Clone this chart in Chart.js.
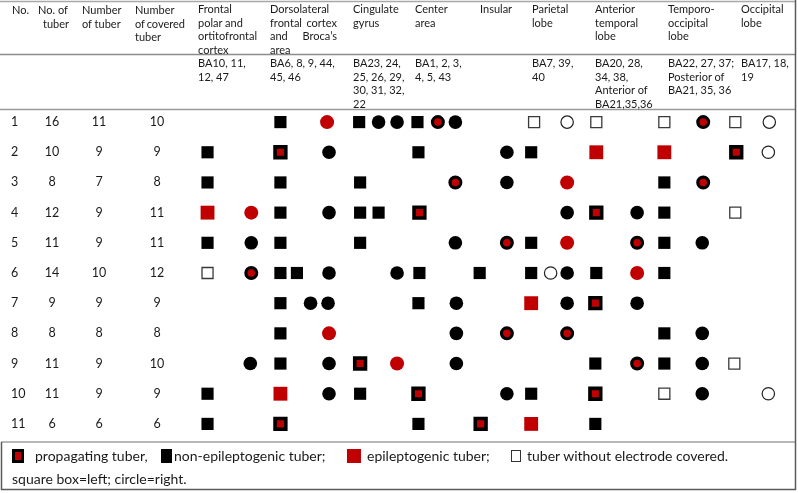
<!DOCTYPE html>
<html>
<head>
<meta charset="utf-8">
<script src="https://cdn.jsdelivr.net/npm/chart.js@4.4.1/dist/chart.umd.min.js"></script>
<style>
  html, body { margin: 0; padding: 0; background: #fff; }
  #wrap { position: relative; width: 798px; height: 493px; overflow: hidden;
          font-family: Lato, "Open Sans", sans-serif; color: #1a1a1a; }
  #tuberChart { position: absolute; left: 0; top: 0; }
  .txt { position: absolute; white-space: nowrap; font-size: 11px; line-height: 13.5px; }
  .just { display: flex; justify-content: space-between; }
  .num { position: absolute; white-space: nowrap; font-size: 12.5px; line-height: 16px; }
  .leg { position: absolute; white-space: nowrap; font-size: 14px; line-height: 18px; }
  .icon { position: absolute; box-sizing: border-box; }
</style>
</head>
<body>
<div id="wrap">
  <canvas id="tuberChart" width="798" height="493"></canvas>
</div>
<script>
// Table header text
const leftHeaders = [["No."], ["No. of", "tuber"], ["Number", "of tuber"], ["Number", "of|covered", "tuber"]];
const regionTitles = [
    ["Frontal", "polar and", "ortitofrontal", "cortex"],
    ["Dorsolateral", "frontal|cortex", "and|Broca’s", "area"],
    ["Cingulate", "gyrus"],
    ["Center", "area"],
    ["Insular"],
    ["Parietal", "lobe"],
    ["Anterior", "temporal", "lobe"],
    ["Temporo-", "occipital", "lobe"],
    ["Occipital", "lobe"]
];
const brodmannAreas = [
    ["BA10, 11,", "12, 47"],
    ["BA6, 8, 9, 44,", "45, 46"],
    ["BA23, 24,", "25, 26, 29,", "30, 31, 32,", "22"],
    ["BA1, 2, 3,", "4, 5, 43"],
    [],
    ["BA7, 39,", "40"],
    ["BA20, 28,", "34, 38,", "Anterior of", "BA21,35,36"],
    ["BA22, 27, 37;", "Posterior of", "BA21, 35, 36"],
    ["BA17, 18,", "19"]
];

// Per patient counts
const patientNo = [1, 2, 3, 4, 5, 6, 7, 8, 9, 10, 11];
const tuberTotal = [16, 10, 8, 12, 11, 14, 9, 8, 11, 11, 6];
const tuberNumber = [11, 9, 7, 9, 9, 10, 9, 8, 9, 9, 6];
const tuberCovered = [10, 9, 8, 11, 11, 12, 9, 8, 10, 9, 6];

// Tubers: [patient row, position across the table]
const nonEpiSquares = [[1, 277], [1, 358], [1, 418], [2, 202], [2, 419], [2, 535], [3, 202], [3, 277], [3, 359], [3, 672],
    [4, 277], [4, 359], [4, 378], [4, 672], [5, 202], [5, 277], [5, 359], [5, 535], [5, 672],
    [6, 277], [6, 294], [6, 420], [6, 482], [6, 535], [6, 602], [6, 672], [7, 277], [7, 419], [8, 277], [8, 672],
    [9, 277], [9, 601], [9, 672], [10, 202], [10, 359], [10, 535], [11, 202], [11, 419], [11, 601]];
const nonEpiCircles = [[1, 378], [1, 397], [1, 457], [2, 327], [2, 510], [3, 510], [4, 327], [4, 572], [4, 644],
    [5, 247], [5, 457], [5, 711], [6, 327], [6, 397], [6, 572], [7, 308], [7, 326], [7, 458], [7, 572], [7, 644],
    [8, 458], [8, 711], [9, 246], [9, 327], [9, 458], [9, 711], [10, 327], [10, 510], [10, 711]];
const propSquares = [[2, 277], [2, 746], [4, 420], [4, 602], [7, 601], [9, 359], [10, 419], [10, 601], [11, 277], [11, 483]];
const propCircles = [[1, 439], [1, 712], [3, 457], [3, 712], [5, 510], [5, 644], [6, 247], [8, 510], [8, 572], [9, 644]];
const epiSquares = [[2, 602], [2, 672], [4, 202], [7, 535], [10, 277], [11, 535]];
const epiCircles = [[1, 325], [3, 572], [4, 247], [5, 572], [6, 644], [8, 327], [9, 397]];
const bareSquares = [[1, 538], [1, 602], [1, 672], [1, 745], [4, 745], [6, 202], [9, 744], [10, 672]];
const bareCircles = [[1, 572], [1, 780], [2, 779], [6, 555], [10, 779]];

const RED = "#c00000";
const wrap = document.getElementById("wrap");

const toPoints = (list) => list.map(([row, pos]) => ({ x: pos, y: row }));

const addText = (cls, text, left, top, width) => {
    const el = document.createElement("div");
    el.className = cls;
    el.style.left = left + "px";
    el.style.top = top + "px";
    if (text.includes("|")) {
        el.classList.add("just");
        el.style.width = width + "px";
        text.split("|").forEach((part) => {
            const s = document.createElement("span");
            s.textContent = part;
            el.appendChild(s);
        });
    } else {
        el.textContent = text;
    }
    wrap.appendChild(el);
    return el;
};

// table rules, drawn under the markers
const tableRules = {
    id: "tableRules",
    beforeDatasetsDraw(chart) {
        const ctx = chart.ctx;
        ctx.save();
        const line = (x1, y1, x2, y2, color, w) => {
            ctx.strokeStyle = color;
            ctx.lineWidth = w;
            ctx.beginPath();
            ctx.moveTo(x1, y1);
            ctx.lineTo(x2, y2);
            ctx.stroke();
        };
        line(0, 1.5, 796, 1.5, "#a8a8a8", 1.5);
        line(0, 54.5, 796, 54.5, "#8c8c8c", 1.5);
        line(0, 109.5, 796, 109.5, "#9a9a9a", 1.5);
        line(1, 442, 796, 442, "#a0a0a0", 1.5);
        line(1, 489.5, 796, 489.5, "#5a5a5a", 1.5);
        line(1.5, 442, 1.5, 490, "#5a5a5a", 1.5);
        line(795.5, 0, 795.5, 490, "#5a5a5a", 1.5);
        ctx.restore();
    }
};

const base = { showLine: false, clip: false, pointHoverRadius: 0 };

const chart = new Chart(document.getElementById("tuberChart"), {
    type: "scatter",
    data: {
        datasets: [
            { ...base, label: "non-epileptogenic tuber (left)", data: toPoints(nonEpiSquares), pointStyle: "rect",
              pointRadius: 8.6, backgroundColor: "#000", borderWidth: 0 },
            { ...base, label: "non-epileptogenic tuber (right)", data: toPoints(nonEpiCircles), pointStyle: "circle",
              pointRadius: 6.8, backgroundColor: "#000", borderWidth: 0 },
            { ...base, label: "epileptogenic tuber (left)", data: toPoints(epiSquares), pointStyle: "rect",
              pointRadius: 9.8, backgroundColor: RED, borderWidth: 0 },
            { ...base, label: "epileptogenic tuber (right)", data: toPoints(epiCircles), pointStyle: "circle",
              pointRadius: 7, backgroundColor: RED, borderWidth: 0 },
            { ...base, label: "propagating tuber (left)", data: toPoints(propSquares), pointStyle: "rect",
              pointRadius: 7.6, backgroundColor: RED, borderColor: "#000", borderWidth: 3.6 },
            { ...base, label: "propagating tuber (right)", data: toPoints(propCircles), pointStyle: "circle",
              pointRadius: 5.4, backgroundColor: RED, borderColor: "#000", borderWidth: 3.2 },
            { ...base, label: "tuber without electrode (left)", data: toPoints(bareSquares), pointStyle: "rect",
              pointRadius: 7.8, backgroundColor: "#fff", borderColor: "#3a3a3a", borderWidth: 1.3 },
            { ...base, label: "tuber without electrode (right)", data: toPoints(bareCircles), pointStyle: "circle",
              pointRadius: 6.2, backgroundColor: "#fff", borderColor: "#222", borderWidth: 1.2 }
        ]
    },
    options: {
        responsive: false,
        animation: false,
        events: [],
        layout: { padding: { top: 107, bottom: 54, left: 0, right: 0 } },
        scales: {
            x: { type: "linear", min: 0, max: 798, display: false },
            y: { type: "linear", min: 0.5, max: 11.5, reverse: true, display: false }
        },
        plugins: { legend: { display: false }, tooltip: { enabled: false } }
    },
    plugins: [tableRules]
});

// header text
const leftHeaderX = [[12], [38, 43], [82, 82], [135, 135, 135]];
leftHeaders.forEach((lines, i) => {
    lines.forEach((t, j) => addText("txt", t, leftHeaderX[i][j], 3 + j * 13.5, 50));
});
const regionLeft = [198, 270, 353, 415, 480, 532, 595, 668, 741];
regionTitles.forEach((lines, i) => {
    lines.forEach((t, j) => addText("txt", t, regionLeft[i], 2 + j * 13.5, 67));
});
brodmannAreas.forEach((lines, i) => {
    lines.forEach((t, j) => addText("txt", t, regionLeft[i], 56 + j * 13.5, 67));
});

// per-patient numbers, placed on the chart's row scale
const yScale = chart.scales.y;
patientNo.forEach((n, i) => {
    const y = yScale.getPixelForValue(n) - 8;
    addText("num", String(n), 11, y);
    const cols = [[tuberTotal[i], 52], [tuberNumber[i], 99], [tuberCovered[i], 157]];
    cols.forEach(([v, cx]) => {
        const el = addText("num", String(v), cx, y);
        el.style.transform = "translateX(-50%)";
    });
});

// legend
const icon = (left, top, w, h, bg, border) => {
    const el = document.createElement("div");
    el.className = "icon";
    Object.assign(el.style, { left: left + "px", top: top + "px", width: w + "px", height: h + "px",
        background: bg, border: border || "none" });
    wrap.appendChild(el);
    return el;
};
icon(12, 449, 12, 14, RED, "3.5px solid #000");
icon(161, 449, 11, 14, "#000");
icon(347, 449, 14, 14, RED);
icon(511, 450, 10, 12, "#fff", "1px solid #333");
addText("leg", "propagating tuber,", 35, 447);
addText("leg", "non-epileptogenic tuber;", 174, 447);
addText("leg", "epileptogenic tuber;", 367, 447);
addText("leg", "tuber without electrode covered.", 527, 447);
addText("leg", "square box=left; circle=right.", 12, 470);
</script>
</body>
</html>
